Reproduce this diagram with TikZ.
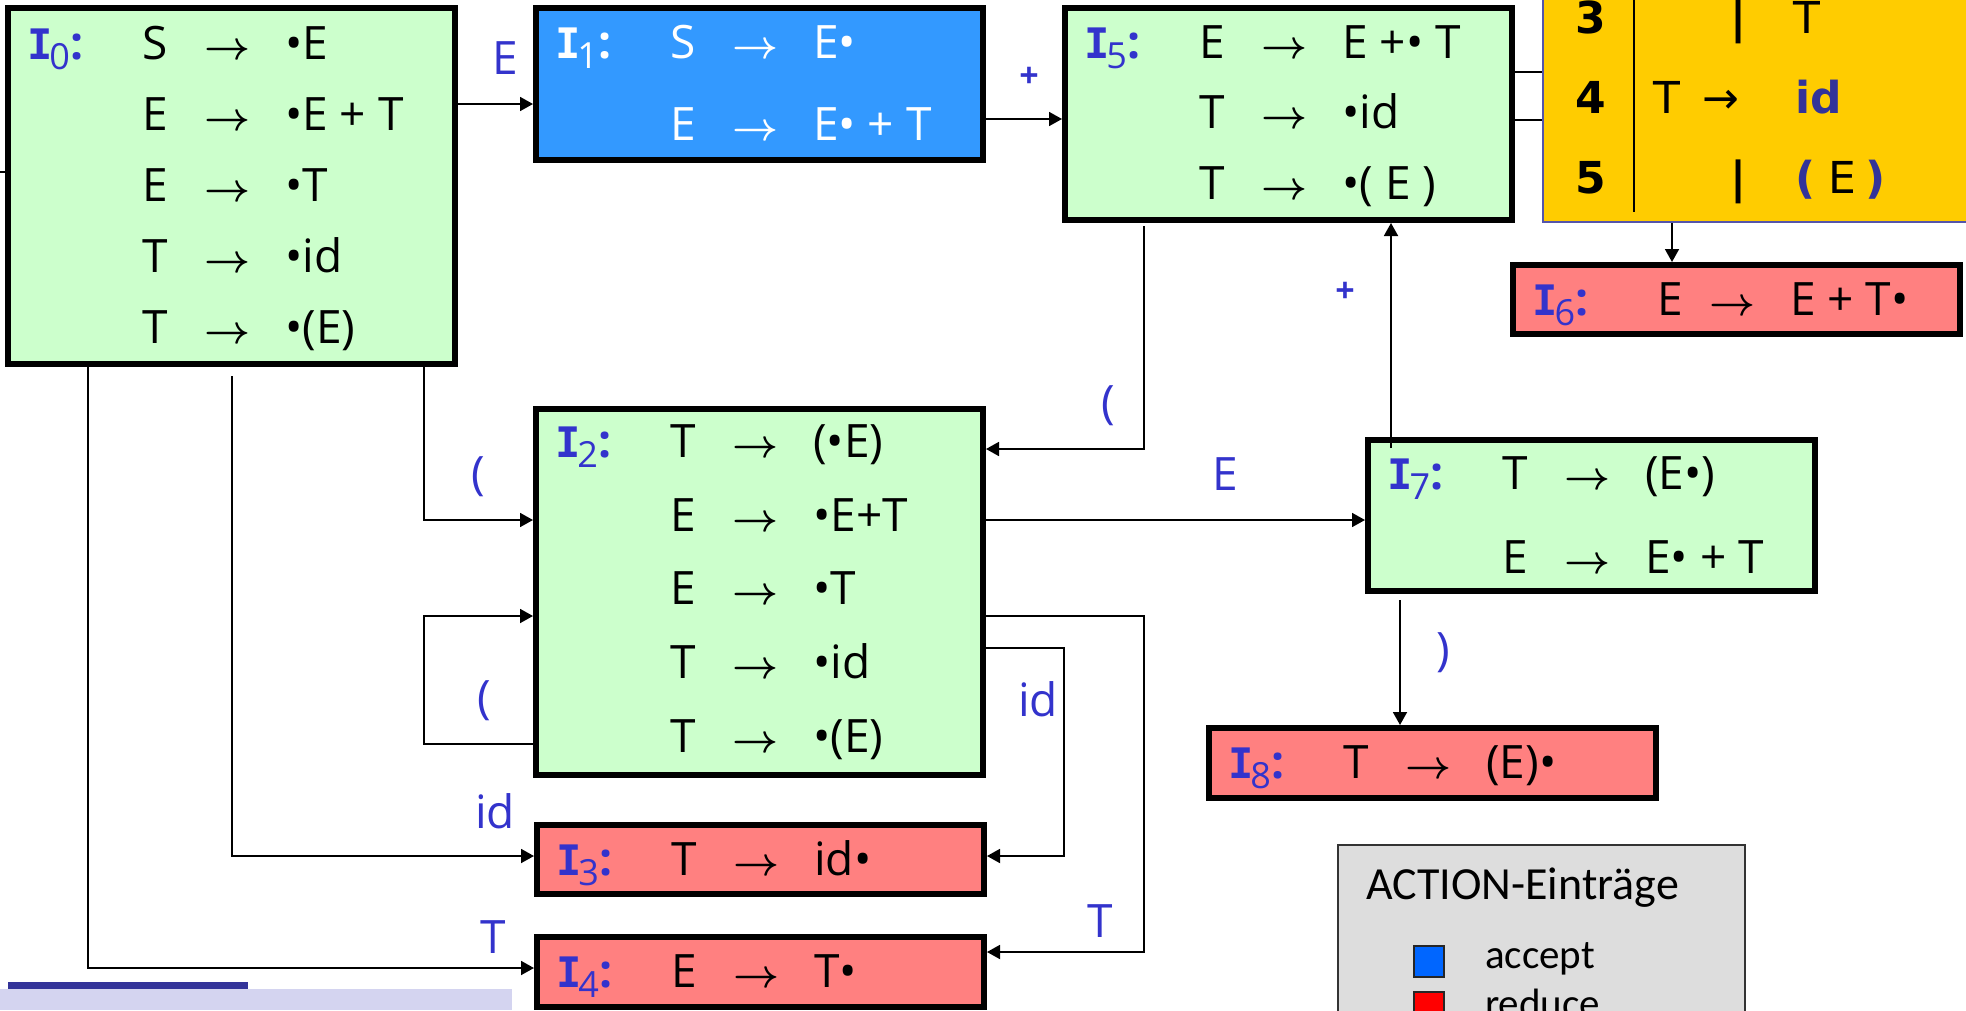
\documentclass[tikz,border=0pt]{standalone}
\usepackage{fix-cm}
\usepackage{fontspec}
\setmainfont{Open Sans}
\newfontfamily\slabfont{DejaVu Sans Mono}
\newfontfamily\tabfont{DejaVu Sans}
\newfontfamily\legfont{Carlito}
\usetikzlibrary{arrows.meta,calc}

\definecolor{stgreen}{HTML}{CCFFCC}
\definecolor{stblue}{HTML}{3399FF}
\definecolor{stred}{HTML}{FF8080}
\definecolor{lblblue}{HTML}{3333CC}
\definecolor{tabyellow}{HTML}{FFCC00}
\definecolor{tabblue}{HTML}{333399}
\definecolor{tabedge}{HTML}{5555AA}
\definecolor{leggray}{HTML}{DDDDDD}
\definecolor{accblue}{HTML}{0066FF}
\definecolor{redfill}{HTML}{FF0000}
\definecolor{barlight}{HTML}{D4D4F0}

\newcommand\sz[1]{\fontsize{#1}{#1}\selectfont}
\newcommand\arr{{\sz{40}\boldmath$\rightarrow$}}
\newcommand\Ilab[1]{{\slabfont\bfseries\sz{42}I}\kern-3pt\raisebox{-10pt}{\sz{36}#1}{\bfseries :}}

% one item row of a state: box, tag, baseline offset, lhs, rhs
\newcommand\prow[6][137]{%
  \node[prod] (#2#3l) at ($(#2.north west)+(#1,#4)$) {#5};
  \node[prod] (#2#3a) at ($(#2.north west)+(199,#4)$) {\arr};
  \node[prod] (#2#3r) at ($(#2.north west)+(280,#4)$) {#6};}
% state name: box, baseline offset, index, colour
\newcommand\plab[4]{%
  \node[prod, text=#4] (#1name) at ($(#1.north west)+(22,#2)$) {\Ilab{#3}};}

\tikzset{
  state/.style={draw=black, line width=6pt, rectangle, inner sep=0pt,
    anchor=north west, minimum width=447pt},
  shift state/.style={state, fill=stgreen},
  accept state/.style={state, fill=stblue},
  reduce state/.style={state, fill=stred},
  prod/.style={inner sep=0pt, anchor=base west, font={\sz{46}}},
  wire/.style={line width=1.8pt},
  edge/.style={wire, -{Triangle[length=13pt,width=14pt]}},
  elabel/.style={text=lblblue, font={\sz{46}}, inner sep=0pt},
  plabel/.style={text=lblblue, font={\bfseries\sz{34}}, inner sep=0pt},
  tabnum/.style={inner sep=0pt, anchor=base, font={\tabfont\bfseries\sz{44}}},
  tabtxt/.style={inner sep=0pt, anchor=base west, font={\tabfont\sz{44}}},
  tabkey/.style={inner sep=0pt, anchor=base west, text=tabblue, font={\tabfont\bfseries\sz{44}}},
  legsq/.style={draw=black!85, line width=1.5pt, anchor=north west, inner sep=0pt,
    minimum width=30pt, minimum height=31pt},
  legtxt/.style={inner sep=0pt, anchor=base west, font={\legfont\sz{41}}},
}

\begin{document}
\begin{tikzpicture}[x=1pt,y=-1pt]
\path[use as bounding box] (0,0) rectangle (1966,1010);
\clip (0,0) rectangle (1966,1010);

% footer bars
\fill[barlight] (0,989) rectangle (512,1010);
\fill[tabblue] (8,982) rectangle (248,989);

% grammar table fragment
\node[draw=tabedge, line width=2pt, fill=tabyellow, anchor=south west, inner sep=0pt,
  minimum width=480pt, minimum height=300pt] (G) at (1542,223) {};
\draw[line width=2pt] (1634,-5) -- (1634,212);
\node[tabnum] (g3) at (1591,33) {3};
\node[tabnum] (g4) at (1591,113) {4};
\node[tabnum] (g5) at (1591,193) {5};
\node[tabnum] (g3bar) at (1739,33) {|};
\node[tabtxt] (g3T) at (1793,33) {T};
\node[tabtxt] (g4T) at (1653,113) {T};
\node[tabtxt] (g4arr) at (1702,113) {→};
\node[tabkey] (g4id) at (1795,113) {id};
\node[tabnum] (g5bar) at (1739,193) {|};
\node[tabkey] (g5l) at (1795,193) {(};
\node[tabtxt] (g5E) at (1828,193) {E};
\node[tabkey] (g5r) at (1865,193) {)};

% legend
\node[draw=black!80, line width=1.5pt, fill=leggray, anchor=north west, inner sep=0pt,
  minimum width=407pt, minimum height=300pt] (L) at (1337,844) {};
\node[inner sep=0pt, anchor=base west, font={\legfont\sz{46}}] (Ltitle) at (1366,899) {ACTION-Einträge};
\node[legsq, fill=accblue] (Lacc) at (1413,945) {};
\node[legtxt] (Lacct) at (1485,968) {accept};
\node[legsq, fill=redfill] (Lred) at (1413,991) {};
\node[legtxt] (Lredt) at (1485,1017) {reduce};

% states
\node[shift state, minimum height=356pt] (I0) at (5,5) {};
\node[accept state, minimum height=152pt] (I1) at (533,5) {};
\node[shift state, minimum height=366pt] (I2) at (533,406) {};
\node[reduce state, minimum height=69pt] (I3) at (534,822) {};
\node[reduce state, minimum height=70pt] (I4) at (534,934) {};
\node[shift state, minimum height=212pt] (I5) at (1062,5) {};
\node[reduce state, minimum height=69pt] (I6) at (1510,262) {};
\node[shift state, minimum height=151pt] (I7) at (1365,437) {};
\node[reduce state, minimum height=70pt] (I8) at (1206,725) {};

% items
\plab{I0}{54}{0}{lblblue}
\prow{I0}{a}{54}{S}{•E}
\prow{I0}{b}{125}{E}{•E + T}
\prow{I0}{c}{196}{E}{•T}
\prow{I0}{d}{267}{T}{•id}
\prow{I0}{e}{338}{T}{•(E)}

\begin{scope}[every node/.append style={text=white}]
\plab{I1}{53}{1}{white}
\prow{I1}{a}{53}{S}{E•}
\prow{I1}{b}{135}{E}{E• + T}
\end{scope}

\plab{I2}{51}{2}{lblblue}
\prow{I2}{a}{51}{T}{(•E)}
\prow{I2}{b}{125}{E}{•E+T}
\prow{I2}{c}{198}{E}{•T}
\prow{I2}{d}{272}{T}{•id}
\prow{I2}{e}{346}{T}{•(E)}

\plab{I3}{53}{3}{lblblue}
\prow{I3}{a}{53}{T}{id•}

\plab{I4}{53}{4}{lblblue}
\prow{I4}{a}{53}{E}{T•}

\plab{I5}{53}{5}{lblblue}
\prow{I5}{a}{53}{E}{E +• T}
\prow{I5}{b}{123}{T}{•id}
\prow{I5}{c}{194}{T}{•( E )}

\plab{I6}{53}{6}{lblblue}
\prow[147]{I6}{a}{53}{E}{E + T•}

\plab{I7}{52}{7}{lblblue}
\prow{I7}{a}{52}{T}{(E•)}
\prow{I7}{b}{136}{E}{E• + T}

\plab{I8}{53}{8}{lblblue}
\prow{I8}{a}{53}{T}{(E)•}

% transitions
\coordinate (stub) at (0,172);
\draw[wire] (stub) -- (I0.west |- stub);

\draw[edge] (I0.east |- 0,104) -- (I1.west |- 0,104);
\node[elabel] (lE01) at (505,58) {E};

\draw[edge] (I1.east |- 0,119) -- (I5.west |- 0,119);
\node[plabel] (lP15) at (1029,77) {+};

\draw[edge] (I5.south -| 1144,0) ++(0,3) |- (I2.east |- 0,449);
\node[elabel] (lB52) at (1108,406) {(};

\draw[edge] (I0.south -| 424,0) |- (I2.west |- 0,520);
\node[elabel] (lB02) at (478,477) {(};

\draw[edge] (I2.west |- 0,744) -| (424,616) -- (I2.west |- 0,616);
\node[elabel] (lB22) at (484,701) {(};

\draw[edge] (I0.south -| 232,0) ++(0,9) |- (I3.west |- 0,856);
\node[elabel] (lid03) at (495,811) {id};

\draw[edge] (I0.south -| 88,0) |- (I4.west |- 0,968);
\node[elabel] (lT04) at (493,937) {T};

\draw[edge] (I2.east |- 0,520) -- (I7.west |- 0,520);
\node[elabel] (lE27) at (1225,474) {E};

\draw[edge] (I2.east |- 0,648) -| (1064,856) -- (I3.east |- 0,856);
\node[elabel] (lid23) at (1038,699) {id};

\draw[edge] (I2.east |- 0,616) -| (1144,952) -- (I4.east |- 0,952);
\node[elabel] (lT24) at (1100,921) {T};

\draw[edge] (I7.north -| 1391,0) ++(0,11) -- (I5.south -| 1391,0);
\node[plabel] (lP75) at (1345,292) {+};

\draw[edge] (I7.south -| 1400,0) ++(0,6) -- (I8.north -| 1400,0);
\node[elabel] (lR78) at (1443,653) {)};

\draw[edge] (G.south -| 1672,0) -- (I6.north -| 1672,0);

\draw[wire] (I5.east |- 0,72) -- (G.west |- 0,72);
\draw[wire] (I5.east |- 0,120) -- (G.west |- 0,120);
\end{tikzpicture}
\end{document}
